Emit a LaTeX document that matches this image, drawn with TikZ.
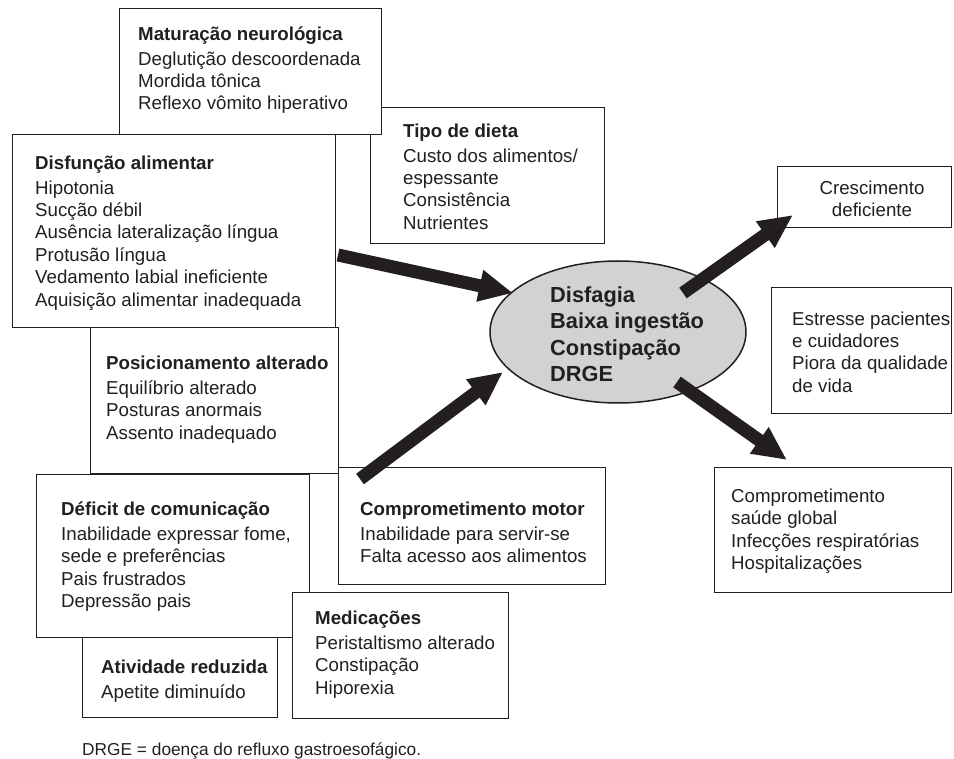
\documentclass[tikz,border=0pt]{standalone}
\usepackage{fontspec}
\setmainfont{Liberation Sans}
\usetikzlibrary{positioning, arrows.meta, shapes.geometric}
\definecolor{tinta}{HTML}{231F20}
\newcommand{\alto}{\rule{0pt}{15pt}}

\begin{document}
\begin{tikzpicture}[x=1pt, y=-1pt,
	caixa/.style={draw=tinta, fill=white, line width=1.3pt, rectangle, anchor=north west, inner sep=0pt},
	texto/.style={anchor=north west, align=left, inner sep=0pt, text=tinta, font=\fontsize{18.7}{22.4}\selectfont},
	elipse/.style={ellipse, draw=tinta, fill=gray!35, line width=1.5pt, inner sep=0pt},
	seta/.style={draw=tinta, line width=13pt, -{Triangle[length=34pt, width=30pt]}}]
	
	\useasboundingbox (0,0) rectangle (954,759);
	
	% caixas da esquerda
	\node[caixa, minimum width=234pt, minimum height=136pt] (tipoDieta) at (370,107) {};
	\node[texto] (tipoDietaTxt) at (403,122) {\alto\textbf{Tipo de dieta}\\[2.6pt]Custo dos alimentos/\\espessante\\Consistência\\Nutrientes};
	
	\node[caixa, minimum width=262pt, minimum height=126pt] (matur) at (119,8) {};
	\node[texto] (maturTxt) at (138,25) {\alto\textbf{Maturação neurológica}\\[2.6pt]Deglutição descoordenada\\Mordida tônica\\Reflexo vômito hiperativo};
	
	\node[caixa, minimum width=323pt, minimum height=193pt] (disfAlim) at (12,134) {};
	\node[texto] (disfAlimTxt) at (35,154) {\alto\textbf{Disfunção alimentar}\\[2.6pt]Hipotonia\\Sucção débil\\Ausência lateralização língua\\Protusão língua\\Vedamento labial ineficiente\\Aquisição alimentar inadequada};
	
	\node[caixa, minimum width=267pt, minimum height=117pt] (comMotor) at (338,467) {};
	\node[texto] (comMotorTxt) at (360,500) {\alto\textbf{Comprometimento motor}\\[2.6pt]Inabilidade para servir-se\\Falta acesso aos alimentos};
	
	\node[caixa, minimum width=248pt, minimum height=146pt] (posic) at (90,327) {};
	\node[texto] (posicTxt) at (106,354) {\alto\textbf{Posicionamento alterado}\\[2.6pt]Equilíbrio alterado\\Posturas anormais\\Assento inadequado};
	
	\node[caixa, minimum width=273pt, minimum height=163pt] (deficit) at (36,474) {};
	\node[texto] (deficitTxt) at (61,500) {\alto\textbf{Déficit de comunicação}\\[2.6pt]Inabilidade expressar fome,\\sede e preferências\\Pais frustrados\\Depressão pais};
	
	\node[caixa, minimum width=216pt, minimum height=126pt] (medic) at (292,592) {};
	\node[texto] (medicTxt) at (315,609) {\alto\textbf{Medicações}\\[2.6pt]Peristaltismo alterado\\Constipação\\Hiporexia};
	
	\node[caixa, minimum width=195pt, minimum height=80pt] (ativ) at (82,637) {};
	\node[texto] (ativTxt) at (101,658) {\alto\textbf{Atividade reduzida}\\[2.6pt]Apetite diminuído};
	
	% caixas da direita
	\node[caixa, minimum width=174pt, minimum height=61pt] (cresc) at (777,166) {};
	\node[texto, anchor=north, align=center] (crescTxt) at (872,179) {\alto Crescimento\\deficiente};
	
	\node[caixa, minimum width=180pt, minimum height=126pt] (estresse) at (771,287) {};
	\node[texto] (estresseTxt) at (792,310) {\alto Estresse pacientes\\e cuidadores\\Piora da qualidade\\de vida};
	
	\node[caixa, minimum width=237pt, minimum height=125pt] (compSaude) at (714,467) {};
	\node[texto] (compSaudeTxt) at (731,487) {\alto Comprometimento\\saúde global\\Infecções respiratórias\\Hospitalizações};
	
	% centro
	\node[elipse, minimum width=256pt, minimum height=142pt] (centro) at (618,332) {};
	\node[texto, font=\fontsize{21.8}{26.5}\selectfont\bfseries] (centroTxt) at (550,285) {\rule{0pt}{17pt}Disfagia\\Baixa ingestão\\Constipação\\DRGE};
	
	% setas
	\coordinate (disfSai) at (338,255);
	\coordinate (disfChega) at (513,293);
	\coordinate (motorSai) at (360,479);
	\coordinate (motorChega) at (503,372);
	\coordinate (crescSai) at (683,293);
	\coordinate (crescChega) at (793,215);
	\coordinate (saudeSai) at (677,382);
	\coordinate (saudeChega) at (787,460);
	
	\draw[seta] (disfSai) -- (disfChega);
	\draw[seta] (motorSai) -- (motorChega);
	\draw[seta] (crescSai) -- (crescChega);
	\draw[seta] (saudeSai) -- (saudeChega);
	
	\node[texto, font=\fontsize{17.3}{20}\selectfont] (nota) at (82,740) {\alto DRGE = doença do refluxo gastroesofágico.};
	
\end{tikzpicture}
\end{document}
